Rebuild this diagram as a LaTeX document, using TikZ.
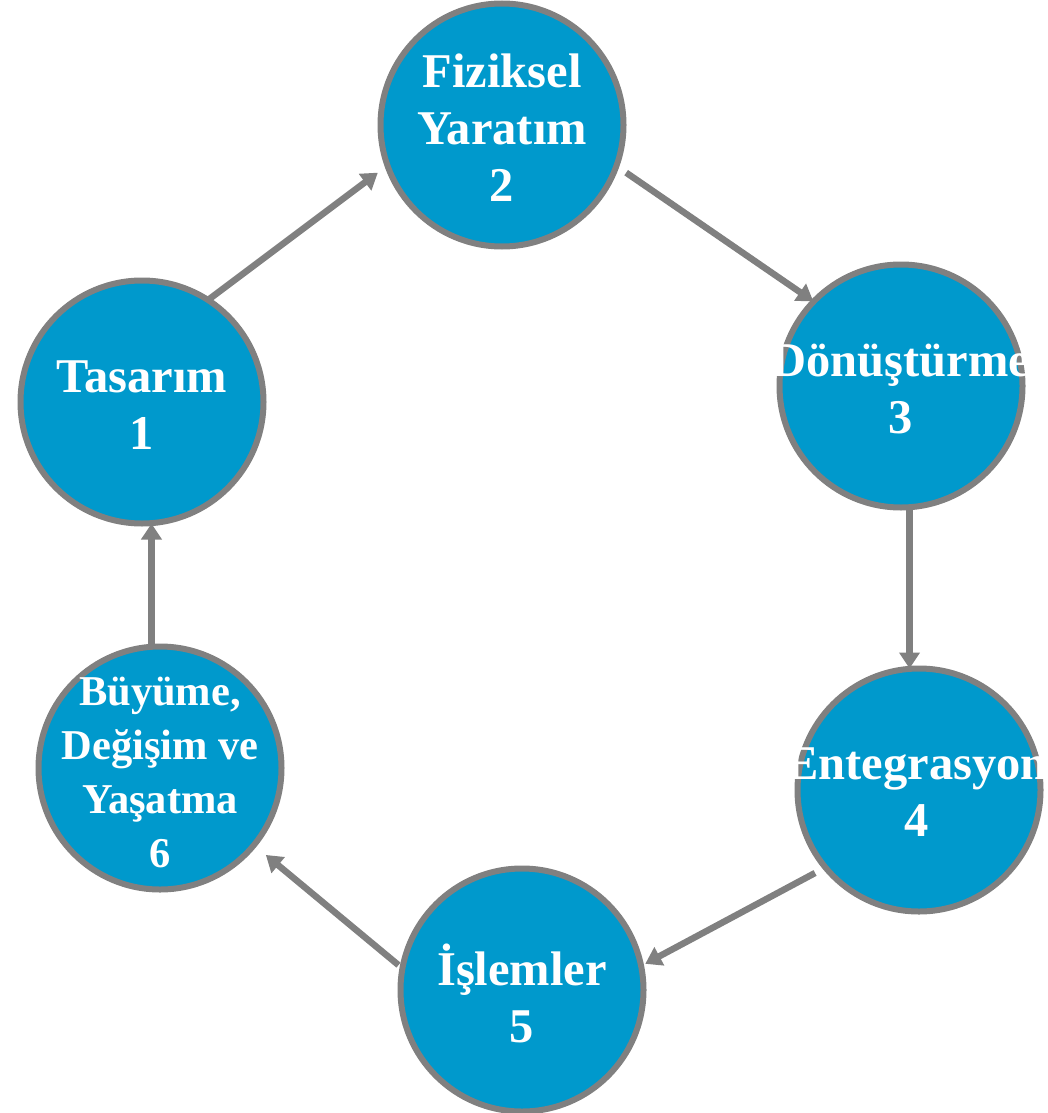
\documentclass[tikz,border=0pt]{standalone}
\usepackage{fontspec}
\setmainfont{Liberation Serif}
\usetikzlibrary{arrows.meta,calc}
\definecolor{cfill}{RGB}{0,153,204}
\definecolor{cline}{RGB}{128,128,128}
\tikzset{
  stage/.style={circle,draw=cline,fill=cfill,line width=6pt,minimum size=243pt,inner sep=0pt,outer sep=0pt},
  txt/.style={text=white,font=\bfseries\fontsize{48.5}{57}\selectfont,align=center,inner sep=0pt},
  txtsmall/.style={text=white,font=\bfseries\fontsize{42.5}{54}\selectfont,align=center,inner sep=0pt},
  conn/.style={draw=cline,line width=6.5pt,-{Triangle[length=16pt,width=20pt]}}
}
\begin{document}
\begin{tikzpicture}[x=1pt,y=-1pt]
\useasboundingbox (0,0) rectangle (1047,1113);
\node[stage] (n1) at (142,402) {};
\node[stage] (n2) at (502,125) {};
\node[stage] (n3) at (901,386) {};
\node[stage] (n4) at (919,790) {};
\node[stage] (n5) at (522,990) {};
\node[stage] (n6) at (160,768) {};
\node[txt] (t1) at (142,405) {Tasarım\\1};
\node[txt] (t2) at (502,128) {Fiziksel\\Yaratım\\2};
\node[txt] (t3) at (901,389) {Dönüştürme\\3};
\node[txt] (t4) at (917,792) {Entegrasyon\\4};
\node[txt] (t5) at (522,993) {İşlemler\\5};
\node[txtsmall] (t6) at (160,772) {Büyüme,\\Değişim ve\\Yaşatma\\6};
\coordinate (a3) at ($(n3)+(86:122)$);
\coordinate (a6) at ($(n6)+(-94:122)$);
\draw[conn] ($(n1)+(-57:122)$) -- ($(n2)+(-201:133)$);
\draw[conn] ($(n2)+(21:133)$) -- ($(n3)+(-136:122)$);
\draw[conn] (a3) -- (a3 |- n4.north);
\draw[conn] ($(n4)+(-218.6:133)$) -- ($(n5)+(-12:126)$);
\draw[conn] ($(n5)+(-168.6:126)$) -- ($(n6)+(39.4:137)$);
\draw[conn] (a6) -- (a6 |- n1.south);
\end{tikzpicture}
\end{document}
